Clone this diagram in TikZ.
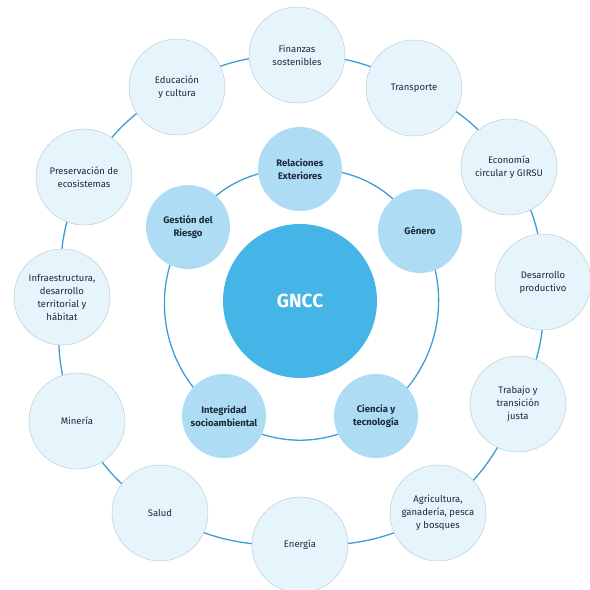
\documentclass[tikz,border=0pt]{standalone}
\usepackage{fontspec}
\setmainfont{Fira Sans}
\usetikzlibrary{backgrounds}
\definecolor{ringblue}{HTML}{3E9DD2}
\definecolor{corefill}{HTML}{45B4E6}
\definecolor{innerfill}{HTML}{AEDCF5}
\definecolor{outerfill}{HTML}{E6F4FC}
\definecolor{outerline}{HTML}{B8C4CC}
\definecolor{labeltext}{HTML}{1D2A3A}

\begin{document}
\begin{tikzpicture}[x=1pt,y=1pt,
    outer/.style={circle,fill=outerfill,draw=outerline,line width=0.4pt,minimum size=96pt,inner sep=0pt,
                  align=center,text=labeltext,font=\fontsize{9.5}{13}\selectfont},
    inner/.style={circle,fill=innerfill,minimum size=84pt,inner sep=0pt,
                  align=center,text=labeltext,font=\fontsize{9.5}{13}\selectfont\bfseries},
    core/.style={circle,fill=corefill,minimum size=154pt,text=white,font=\fontsize{19}{22}\selectfont\bfseries},
    ring/.style={draw=ringblue,line width=1.3pt}]
  \useasboundingbox (-300,-290) rectangle (290,300);

  % outer ring
  \node[outer] (fin) at (-3,245)    {Finanzas\\sostenibles};
  \node[outer] (tra) at (114,212)   {Transporte};
  \node[outer] (eco) at (209,133)   {Economía\\circular y GIRSU};
  \node[outer] (des) at (243,18)    {Desarrollo\\productivo};
  \node[outer] (trb) at (218,-104)  {Trabajo y\\transición\\justa};
  \node[outer] (agr) at (138,-213)  {Agricultura,\\ganadería, pesca\\y bosques};
  \node[outer] (ene) at (0,-245)    {Energía};
  \node[outer] (sal) at (-140,-213) {Salud};
  \node[outer] (min) at (-223,-121) {Minería};
  \node[outer] (inf) at (-238,3)    {Infraestructura,\\desarrollo\\territorial y\\hábitat};
  \node[outer] (pre) at (-216,123)  {Preservación de\\ecosistemas};
  \node[outer] (edu) at (-123,213)  {Educación\\y cultura};

  % inner ring
  \node[inner] (rel) at (0,131)     {Relaciones\\Exteriores};
  \node[inner] (gen) at (120,69)    {Género};
  \node[inner] (cie) at (76,-116)   {Ciencia y\\tecnología};
  \node[inner] (int) at (-76,-116)  {Integridad\\socioambiental};
  \node[inner] (ges) at (-112,73)   {Gestión del\\Riesgo};

  \node[core] (gncc) at (0,-1) {GNCC};

  \begin{scope}[on background layer]
  \path[ring]
     (fin.center) edge [bend left=15] (tra.center)
     (tra.center) edge [bend left=15] (eco.center)
     (eco.center) edge [bend left=15] (des.center)
     (des.center) edge [bend left=15] (trb.center)
     (trb.center) edge [bend left=15] (agr.center)
     (agr.center) edge [bend left=15] (ene.center)
     (ene.center) edge [bend left=15] (sal.center)
     (sal.center) edge [bend left=15] (min.center)
     (min.center) edge [bend left=15] (inf.center)
     (inf.center) edge [bend left=15] (pre.center)
     (pre.center) edge [bend left=15] (edu.center)
     (edu.center) edge [bend left=15] (fin.center);
  \path[ring]
     (rel.center) edge [bend left=30] (gen.center)
     (gen.center) edge [bend left=43] (cie.center)
     (cie.center) edge [bend left=33] (int.center)
     (int.center) edge [bend left=45] (ges.center)
     (ges.center) edge [bend left=28] (rel.center);
  \end{scope}
\end{tikzpicture}
\end{document}
